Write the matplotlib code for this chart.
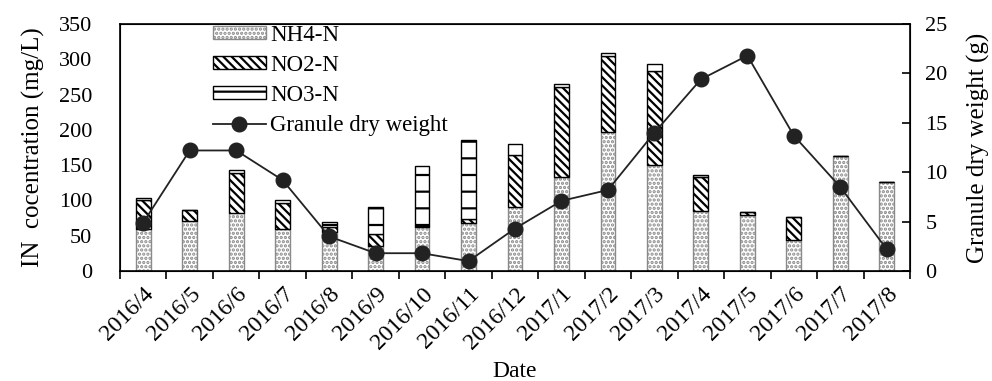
import numpy as np
import matplotlib.pyplot as plt
from matplotlib.ticker import FixedLocator, NullFormatter

plt.rcParams['font.family'] = ['Liberation Serif', 'DejaVu Serif']
plt.rcParams['hatch.linewidth'] = 1.6

dates = ['2016/4', '2016/5', '2016/6', '2016/7', '2016/8', '2016/9', '2016/10',
         '2016/11', '2016/12', '2017/1', '2017/2', '2017/3', '2017/4', '2017/5',
         '2017/6', '2017/7', '2017/8']
nh4 = [60, 71, 82, 60, 55, 35, 62, 68, 91, 133, 197, 150, 85, 79, 44, 163, 126]
no2 = [40, 15, 57, 37, 8, 18, 2, 6, 73, 128, 108, 133, 48, 4, 32, 0, 0]
no3 = [3, 0, 4, 3, 6, 38, 85, 112, 16, 4, 4, 10, 3, 1, 1, 0, 0]
dry_weight = [4.9, 12.2, 12.2, 9.2, 3.5, 1.8, 1.8, 1.0, 4.3, 7.1, 8.2, 14.0,
              19.4, 21.8, 13.7, 8.5, 2.2]

x = np.arange(len(dates))
nh4 = np.array(nh4)
no2 = np.array(no2)
no3 = np.array(no3)

fig, ax = plt.subplots(figsize=(9.92, 3.81), dpi=100)
fig.subplots_adjust(left=120/992, right=910/992, top=1-24/381, bottom=1-271/381)

w = 0.32
b1 = ax.bar(x, nh4, w, color='white', edgecolor='#8a8a8a', hatch='....',
            linewidth=1, label='NH4-N')
b2 = ax.bar(x, no2, w, bottom=nh4, color='white', edgecolor='black',
            hatch='\\\\\\\\', linewidth=1, label='NO2-N')
b3 = ax.bar(x, no3, w, bottom=nh4 + no2, color='white', edgecolor='black',
            hatch='-', linewidth=1, label='NO3-N')

ax.set_xlim(-0.5, len(dates) - 0.5)
ax.set_ylim(0, 350)
ax.set_yticks(np.arange(0, 351, 50))
ax.tick_params(axis='y', length=0, labelsize=16, pad=20)

# category boundaries carry the tick marks, labels sit at the centres
ax.xaxis.set_major_locator(FixedLocator(np.arange(-0.5, len(dates), 1)))
ax.xaxis.set_major_formatter(NullFormatter())
ax.xaxis.set_minor_locator(FixedLocator(x))
ax.set_xticklabels(dates, minor=True, rotation=45, ha='right',
                   rotation_mode='anchor', fontsize=17)
ax.tick_params(axis='x', which='major', direction='out', length=6, width=1.2)
ax.tick_params(axis='x', which='minor', length=0, pad=9)

ax.set_xlabel('Date', fontsize=17, labelpad=6)
ax.set_ylabel('IN  cocentration (mg/L)', fontsize=18, labelpad=10)

for s in ax.spines.values():
    s.set_linewidth(1.2)

ax2 = ax.twinx()
ln, = ax2.plot(x, dry_weight, color='#222222', marker='o', markersize=10.5,
               linewidth=1.3, label='Granule dry weight')
ax2.set_ylim(0, 25)
ax2.set_yticks(np.arange(0, 26, 5))
ax2.tick_params(axis='y', direction='in', length=6, width=1.2, labelsize=16, pad=11)
ax2.set_ylabel('Granule dry weight (g)', fontsize=18, labelpad=14)

ax2.legend(handles=[b1, b2, b3, ln], loc='upper left', bbox_to_anchor=(0.106, 1.035),
           frameon=False, fontsize=16.5, handlelength=2.3, handleheight=0.5,
           labelspacing=0.4, handletextpad=0.2, borderaxespad=0)

fig.savefig('out.png', dpi=100)
